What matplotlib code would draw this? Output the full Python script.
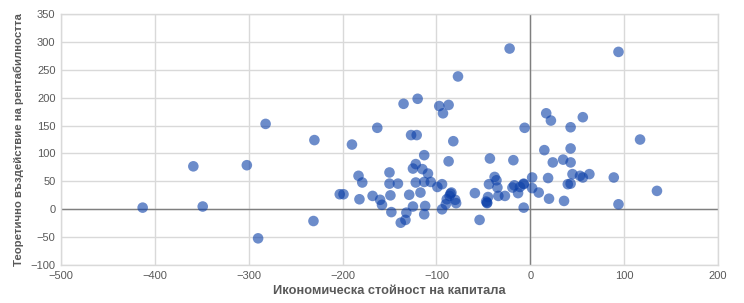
import matplotlib
matplotlib.use("Agg")
import matplotlib.pyplot as plt

plt.rcParams['font.family'] = ['Liberation Sans', 'DejaVu Sans']

x_title = "Икономическа стойност на капитала"
y_title = "Теоретично въздействие на рентабилността"
x_ticks = [-500, -400, -300, -200, -100, 0, 100, 200]
y_ticks = [-100, -50, 0, 50, 100, 150, 200, 250, 300, 350]

econ_value = [
    -282, -359, -302, -413, -349, -290,
    -22, -77, -135, -120, -97, -87, -93, -163, -230, -190, -127, -121, -82,
    -113, -87, -43, -18, -122, -125, -115, -109, -183, -150, -179, -150, -141,
    -122, -113, -106, -99, -94, -203, -199, -182, -168, -160, -158, -149,
    -129, -117, -148, -125, -112, -132, -113, -133, -138, -231, -54, -94,
    -59, -45, -46, -47, -46, -44, -38, -36, -35, -34, -27, -19, -17, -13,
    -84, -85, -86, -89, -80, -79, -90,
    94, 17, 22, 56, 43, -6, 117, 15, 43, 24, 35, 43, 45, 53, 56, 63, 89,
    2, 19, 40, 43, 2, 9, 20, 36, 94, 135, -7, -7, -7, -11,
]
rent_impact = [
    153, 77, 79, 3, 5, -52,
    288, 238, 189, 198, 185, 187, 172, 146, 124, 116, 133, 133, 122,
    97, 86, 91, 88, 81, 73, 72, 64, 60, 66, 48, 46, 46,
    48, 49, 49, 40, 45, 27, 27, 18, 24, 17, 8, 25,
    26, 30, -5, 5, 6, -6, -9, -19, -24, -21, -19, 0,
    29, 22, 12, 14, 11, 45, 58, 52, 39, 24, 24, 39, 43, 29,
    30, 28, 24, 18, 17, 11, 9,
    282, 172, 159, 165, 147, 146, 125, 106, 109, 84, 89, 84, 63, 60, 57, 63, 57,
    57, 56, 45, 46, 38, 30, 19, 15, 9, 33, 3, 45, 46, 40,
]

fig = plt.figure(figsize=(7.44, 3.03), dpi=100)
ax = fig.add_axes([0.082, 0.125, 0.883, 0.829])

ax.scatter(econ_value, rent_impact, s=58, color='#0B3FA8', alpha=0.6,
           edgecolors='none', zorder=3)

ax.set_xlim(-500, 200)
ax.set_ylim(-100, 350)
ax.set_xticks(x_ticks)
ax.set_yticks(y_ticks)
ax.grid(True, color='#D9D9D9', linewidth=1.0, zorder=0)
ax.axhline(0, color='#7F7F7F', linewidth=1.0, zorder=2)
ax.axvline(0, color='#7F7F7F', linewidth=1.0, zorder=2)
for sp in ax.spines.values():
    sp.set_color('#D9D9D9')
    sp.set_linewidth(1.0)
ax.tick_params(length=0, labelsize=8, labelcolor='#595959', pad=4)

ax.set_xlabel(x_title, fontsize=9.2, fontweight='bold', color='#595959', labelpad=3)
ax.set_ylabel(y_title, fontsize=8.2, fontweight='bold', color='#595959', labelpad=5)

fig.savefig("out.png", dpi=100)
